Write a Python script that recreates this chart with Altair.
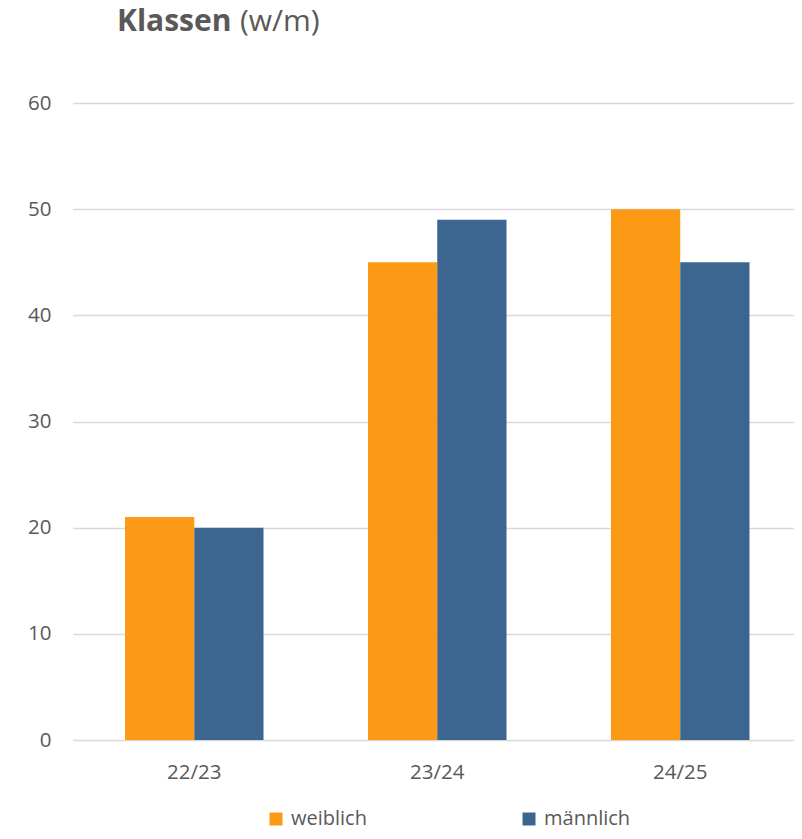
import altair as alt
import pandas as pd

years = ["22/23", "23/24", "24/25"]
weiblich = [21, 45, 50]
maennlich = [20, 49, 45]
series = ["weiblich", "männlich"]
colors = ["#FD9A15", "#3C668F"]

rows = []
for i, y in enumerate(years):
    rows.append({"Jahr": y, "Geschlecht": series[0], "Wert": weiblich[i]})
    rows.append({"Jahr": y, "Geschlecht": series[1], "Wert": maennlich[i]})
df = pd.DataFrame(rows)

FONT = "Open Sans"
TXT = "#595959"

bars = alt.Chart(df).mark_bar().encode(
    x=alt.X("Jahr:N", sort=years,
            scale=alt.Scale(paddingInner=0.43, paddingOuter=0.214, range=[0, 728.5]),
            axis=alt.Axis(title=None, labelAngle=0, labelPadding=22, ticks=False,
                          domain=False, labelFontSize=20.5, labelColor=TXT, labelFont=FONT)),
    xOffset=alt.XOffset("Geschlecht:N", sort=series, scale=alt.Scale(paddingInner=0, paddingOuter=0)),
    y=alt.Y("Wert:Q", scale=alt.Scale(domain=[0, 60], nice=False),
            axis=alt.Axis(title=None, values=[0, 10, 20, 30, 40, 50, 60], ticks=False, domain=False,
                          gridColor="#D9D9D9", gridWidth=1.5, labelPadding=22,
                          labelFontSize=20.5, labelColor=TXT, labelFont=FONT)),
    color=alt.Color("Geschlecht:N", sort=series,
                    scale=alt.Scale(domain=series, range=colors),
                    legend=alt.Legend(title=None, orient="none", direction="horizontal",
                                      legendX=193, legendY=706, symbolType="square",
                                      symbolSize=169, symbolStrokeWidth=0, symbolOffset=0,
                                      labelOffset=5, columnPadding=152, gridAlign="each",
                                      labelFontSize=20, labelColor=TXT, labelFont=FONT)),
)

t1 = alt.Chart(pd.DataFrame({"t": ["Klassen"]})).mark_text(
    align="left", baseline="alphabetic", font=FONT, fontSize=30, fontWeight="bold", color=TXT
).encode(text="t:N", x=alt.value(44), y=alt.value(-72))

t2 = alt.Chart(pd.DataFrame({"t": ["(w/m)"]})).mark_text(
    align="left", baseline="alphabetic", font=FONT, fontSize=30, color=TXT
).encode(text="t:N", x=alt.value(167), y=alt.value(-72))

chart = alt.layer(bars, t1, t2).properties(
    width=721, height=637,
    autosize=alt.AutoSizeParams(type="none"),
    padding={"left": 65, "top": 95, "right": 0, "bottom": 87},
).configure_view(stroke=None)

chart.save("out.html", embed_options={"renderer": "svg", "actions": False})
